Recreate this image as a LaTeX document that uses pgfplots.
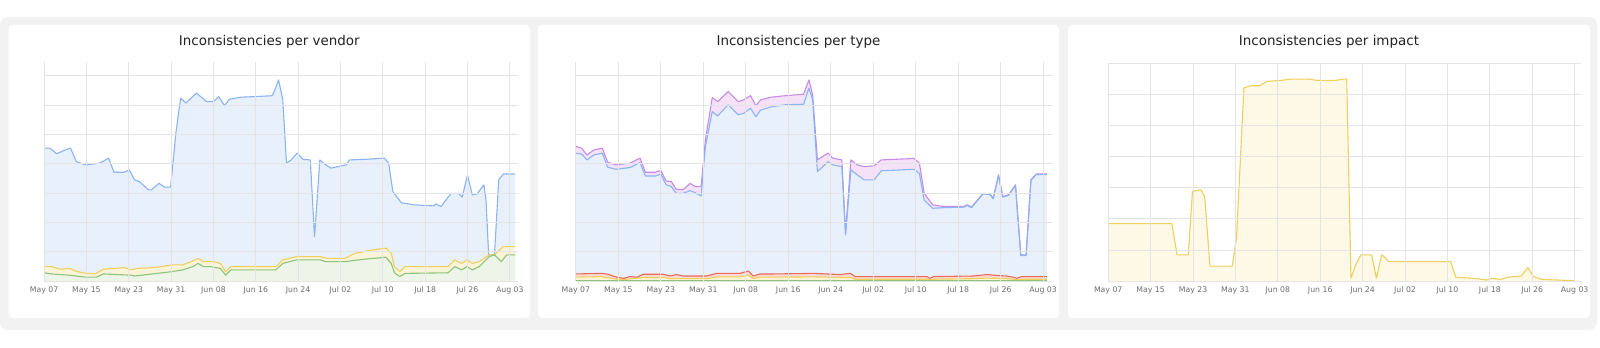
\documentclass[border=0pt]{standalone}
\usepackage{pgfplots}
\pgfplotsset{compat=1.18}
\usepackage{fontspec}
\setmainfont{DejaVu Sans}

\definecolor{bandc}{HTML}{F2F2F2}
\definecolor{gridc}{HTML}{E4E4E4}
\definecolor{tickc}{HTML}{6E6E6E}
\definecolor{titlec}{HTML}{222222}
\definecolor{blueline}{HTML}{8AB4F2}
\definecolor{bluefill}{HTML}{E8F0FC}
\definecolor{purpleline}{HTML}{C58BE6}
\definecolor{pinkfill}{HTML}{F5E2F8}
\definecolor{yellowline}{HTML}{F0CF5A}
\definecolor{yellowfill}{HTML}{FCF4D8}
\definecolor{yellowfillB}{HTML}{FDF9E6}
\definecolor{greenline}{HTML}{8CC47A}
\definecolor{greenfill}{HTML}{EDF5E9}
\definecolor{redline}{HTML}{EC6A58}
\definecolor{redfill}{HTML}{F9DAD5}

\pgfplotsset{
  panel/.style={
    scale only axis,
    anchor=south west,
    axis on top,
    xmin=0, ymin=0,
    axis line style={draw=none},
    major tick length=0pt,
    xtick={0,8,...,88},
    xticklabels={May 07,May 15,May 23,May 31,Jun 08,Jun 16,Jun 24,Jul 02,Jul 10,Jul 18,Jul 26,Aug 03},
    ytick={0,1,...,7},
    yticklabels={},
    grid=major,
    major grid style={color=gridc, line width=0.7bp},
    tick label style={font=\fontsize{7.8}{9}\selectfont, text=tickc},
    xticklabel style={yshift=-2.5bp},
  },
  fillp/.style={draw=none, fill=#1},
  linep/.style={color=#1, line width=1.1bp, mark=none, line join=round},
}

\begin{document}
\begin{tikzpicture}
\fill[white] (0bp,0bp) rectangle (1600bp,348bp);
\fill[bandc, rounded corners=8bp] (0bp,18bp) rectangle (1597bp,331bp);
\fill[white, rounded corners=4bp] (8.5bp,30bp) rectangle (530bp,323bp);
\fill[white, rounded corners=4bp] (538bp,30bp) rectangle (1059bp,323bp);
\fill[white, rounded corners=4bp] (1068bp,30bp) rectangle (1590bp,323bp);

\node[font=\fontsize{13.5}{16}\selectfont, text=titlec] at (269.3bp,306bp) {Inconsistencies per vendor};
\node[font=\fontsize{13.5}{16}\selectfont, text=titlec] at (798.5bp,306bp) {Inconsistencies per type};
\node[font=\fontsize{13.5}{16}\selectfont, text=titlec] at (1329bp,306bp) {Inconsistencies per impact};

%%%%%%%%%%%%%%%% Panel 1: per vendor (stacked tops)
\begin{axis}[panel, at={(44.1bp,67bp)}, width=474.2bp, height=219bp, xmax=89.6, ymax=7.47]
\def\blueA{(0,4.53) (1.1,4.53) (2.4,4.34) (3.7,4.45) (5,4.53) (6.1,4.07) (7.9,3.96) (10.5,4.02) (12.2,4.19) (13.2,3.71) (15.1,3.71) (16.1,3.79) (17.1,3.45) (18,3.39) (19.7,3.11) (20.3,3.11) (21.7,3.33) (22.8,3.2) (23.9,3.2) (24.9,5.04) (25.8,6.24) (26.8,6.07) (28.8,6.41) (30.7,6.12) (32,6.12) (33,6.29) (34.1,5.98) (35,6.2) (37.2,6.27) (39.8,6.29) (43.1,6.32) (43.6,6.52) (44.3,6.86) (45.1,6.18) (45.8,4.02) (46.7,4.13) (47.8,4.36) (48.9,4.15) (50.3,4.13) (51.1,1.51) (52.1,4.13) (53.2,3.96) (54.2,3.85) (57.1,3.96) (57.7,4.13) (60.7,4.15) (64.3,4.19) (65.1,4.02) (65.9,3.05) (67.5,2.67) (69.8,2.6) (73.7,2.56) (74,2.63) (75,2.54) (76.9,2.99) (78.3,2.99) (79,2.86) (80,3.62) (80.9,2.94) (81.8,2.97) (83.1,3.28) (83.5,2.77) (84,0.89) (85.1,0.89) (85.9,3.45) (86.8,3.65) (89,3.65)}
\def\yellowA{(0,0.49) (1.4,0.49) (3.1,0.4) (4.7,0.43) (6.3,0.32) (7.9,0.26) (9.6,0.24) (11.2,0.4) (13.2,0.43) (15.1,0.46) (16.4,0.38) (17.7,0.43) (21,0.46) (24.2,0.55) (26.2,0.55) (27.8,0.66) (29.1,0.77) (30.1,0.66) (32,0.66) (33.3,0.6) (34.3,0.32) (35.3,0.49) (37.2,0.49) (43.8,0.49) (45.1,0.72) (47.7,0.83) (52.2,0.83) (53.5,0.77) (56.8,0.77) (58.7,0.94) (62,1.06) (64.6,1.12) (65.6,0.94) (66.2,0.49) (67.2,0.32) (68.2,0.49) (76.3,0.49) (77.6,0.72) (78.9,0.6) (79.9,0.72) (80.9,0.6) (82.2,0.66) (84.1,0.89) (85.1,0.89) (86.7,1.17) (89,1.17)}
\def\greenA{(0,0.28) (1.4,0.24) (4.7,0.2) (7.9,0.13) (9.9,0.13) (11.2,0.24) (16.4,0.2) (17.1,0.17) (24.2,0.32) (26.2,0.38) (28.1,0.49) (29.1,0.6) (30.1,0.49) (31.4,0.49) (33.3,0.43) (34.3,0.2) (35.3,0.38) (37.2,0.38) (43.8,0.38) (45.1,0.6) (47.7,0.72) (52.2,0.72) (53.2,0.66) (56.8,0.66) (59.4,0.72) (62,0.77) (64.6,0.81) (65.6,0.6) (66.2,0.28) (67.2,0.15) (68.2,0.26) (76.3,0.28) (77.6,0.49) (78.9,0.38) (79.9,0.49) (80.9,0.38) (82.2,0.49) (84.1,0.83) (85.1,0.89) (86.4,0.66) (87.4,0.89) (89,0.89)}
\addplot[fillp=bluefill] coordinates {\blueA} \closedcycle;
\addplot[fillp=yellowfill] coordinates {\yellowA} \closedcycle;
\addplot[fillp=greenfill] coordinates {\greenA} \closedcycle;
\addplot[linep=blueline] coordinates {\blueA};
\addplot[linep=yellowline] coordinates {\yellowA};
\addplot[linep=greenline] coordinates {\greenA};
\end{axis}

%%%%%%%%%%%%%%%% Panel 2: per type
\begin{axis}[panel, at={(575.8bp,67bp)}, width=475.8bp, height=219bp, xmax=89.6, ymax=7.47]
\def\purpleB{(0,4.59) (1.1,4.53) (2.1,4.3) (3.4,4.47) (5,4.53) (6,4.05) (7.6,3.96) (10.2,4.02) (12.1,4.19) (13.1,3.71) (15,3.71) (16,3.77) (17,3.41) (18,3.39) (18.9,3.13) (20.2,3.11) (21.5,3.33) (22.5,3.22) (23.6,3.22) (24.4,4.81) (25.7,6.26) (26.7,6.12) (28.7,6.46) (30.6,6.12) (31.6,6.18) (32.9,6.32) (33.9,5.98) (34.8,6.18) (36.8,6.27) (39.4,6.32) (42.9,6.37) (43.9,6.86) (44.6,6.35) (45.5,4.13) (46.5,4.25) (47.5,4.36) (48.4,4.19) (50.1,4.13) (50.8,1.63) (51.8,4.13) (53,3.96) (54.3,3.9) (56.2,3.93) (57.5,4.13) (60.1,4.15) (63.7,4.18) (64.7,4.02) (65.6,2.99) (67.2,2.6) (69.2,2.54) (73.1,2.54) (73.7,2.6) (74.5,2.52) (76.7,2.99) (78,2.97) (78.6,2.82) (79.6,3.62) (80.4,2.88) (81.5,2.94) (82.8,3.28) (83.1,2.54) (83.8,0.89) (84.8,0.89) (85.7,3.45) (86.7,3.65) (88.7,3.65)}
\def\blueB{(0,4.36) (1.1,4.33) (2.1,4.13) (3.4,4.3) (5,4.36) (6,3.88) (7.6,3.81) (10.2,3.87) (12.1,4.04) (13.1,3.58) (15,3.58) (16,3.65) (17,3.28) (18,3.22) (18.9,2.99) (20.2,2.99) (21.5,3.08) (22.5,3.01) (23.6,2.9) (24.4,4.58) (25.7,5.78) (26.7,5.63) (28.7,6.01) (30.6,5.67) (31.6,5.72) (32.9,5.89) (33.9,5.6) (34.8,5.83) (36.8,5.94) (39.4,6.01) (42.9,6.03) (43.9,6.58) (44.6,6.18) (45.5,3.73) (46.5,3.9) (47.5,4.07) (48.4,3.96) (50.1,3.9) (50.8,1.57) (51.8,3.79) (53,3.62) (54.3,3.45) (56.2,3.45) (57.5,3.76) (60.1,3.78) (63.7,3.81) (64.7,3.67) (65.6,2.76) (67.2,2.48) (69.2,2.5) (73.1,2.52) (73.7,2.58) (74.5,2.5) (76.7,2.97) (78,2.95) (78.6,2.8) (79.6,3.6) (80.4,2.86) (81.5,2.92) (82.8,3.26) (83.1,2.52) (83.8,0.87) (84.8,0.87) (85.7,3.43) (86.7,3.63) (88.7,3.63)}
\def\redB{(0,0.24) (4.7,0.26) (5.8,0.24) (7.7,0.13) (9,0.09) (10.2,0.15) (11.5,0.13) (12.7,0.23) (16.5,0.23) (17.7,0.17) (19,0.22) (20.2,0.17) (24.6,0.17) (26.5,0.26) (30.9,0.26) (32.5,0.34) (33.4,0.17) (34.7,0.24) (37.2,0.24) (44.8,0.26) (47.3,0.24) (49.8,0.22) (51.7,0.26) (52.6,0.15) (56.1,0.15) (66.1,0.15) (66.7,0.09) (67.4,0.15) (74.9,0.17) (77.4,0.22) (78.6,0.2) (81.1,0.17) (82.4,0.13) (83,0.09) (84,0.15) (86.2,0.15) (88.7,0.15)}
\def\yellowB{(0,0.13) (4.7,0.15) (7.7,0.06) (9,0.05) (12.7,0.12) (16.5,0.12) (17.7,0.08) (24.6,0.08) (26.5,0.14) (30.9,0.14) (32.5,0.2) (33.4,0.08) (34.7,0.13) (44.8,0.14) (49.8,0.12) (51.7,0.12) (52.6,0.06) (66.1,0.06) (66.7,0.04) (67.4,0.06) (74.9,0.08) (77.4,0.1) (81.1,0.08) (83,0.05) (84,0.06) (88.7,0.06)}
\def\greenB{(0,0.03) (88.7,0.03)}
\addplot[fillp=pinkfill] coordinates {\purpleB} \closedcycle;
\addplot[fillp=bluefill] coordinates {\blueB} \closedcycle;
\addplot[fillp=redfill] coordinates {\redB} \closedcycle;
\addplot[fillp=yellowfill] coordinates {\yellowB} \closedcycle;
\addplot[fillp=greenfill] coordinates {\greenB} \closedcycle;
\addplot[linep=purpleline] coordinates {\purpleB};
\addplot[linep=blueline] coordinates {\blueB};
\addplot[linep=yellowline] coordinates {\yellowB};
\addplot[linep=redline] coordinates {\redB};
\addplot[linep=greenline] coordinates {\greenB};
\end{axis}

%%%%%%%%%%%%%%%% Panel 3: per impact
\begin{axis}[panel, at={(1108.2bp,67bp)}, width=472.8bp, height=218bp, xmax=89.2, ymax=7]
\def\yellowC{(0,1.84) (12,1.84) (13,0.84) (15.1,0.84) (15.9,2.88) (17.5,2.93) (18.2,2.71) (19.2,0.48) (23.4,0.48) (24.2,1.37) (25.6,6.2) (26.9,6.27) (28.6,6.27) (29.9,6.41) (32.5,6.44) (34.4,6.48) (37.7,6.48) (39.6,6.44) (42.9,6.44) (44.2,6.48) (45,6.48) (45.8,0.09) (46.8,0.57) (47.7,0.84) (49.7,0.84) (50.6,0.09) (51.6,0.84) (52.2,0.76) (52.9,0.62) (64.6,0.62) (65.6,0.12) (68.8,0.09) (71.4,0.03) (72.3,0.09) (74,0.05) (75.3,0.12) (77.9,0.16) (79.2,0.43) (80.2,0.14) (81.8,0.05) (88,0.01)}
\addplot[fillp=yellowfillB] coordinates {\yellowC} \closedcycle;
\addplot[linep=yellowline] coordinates {\yellowC};
\end{axis}
\end{tikzpicture}
\end{document}
